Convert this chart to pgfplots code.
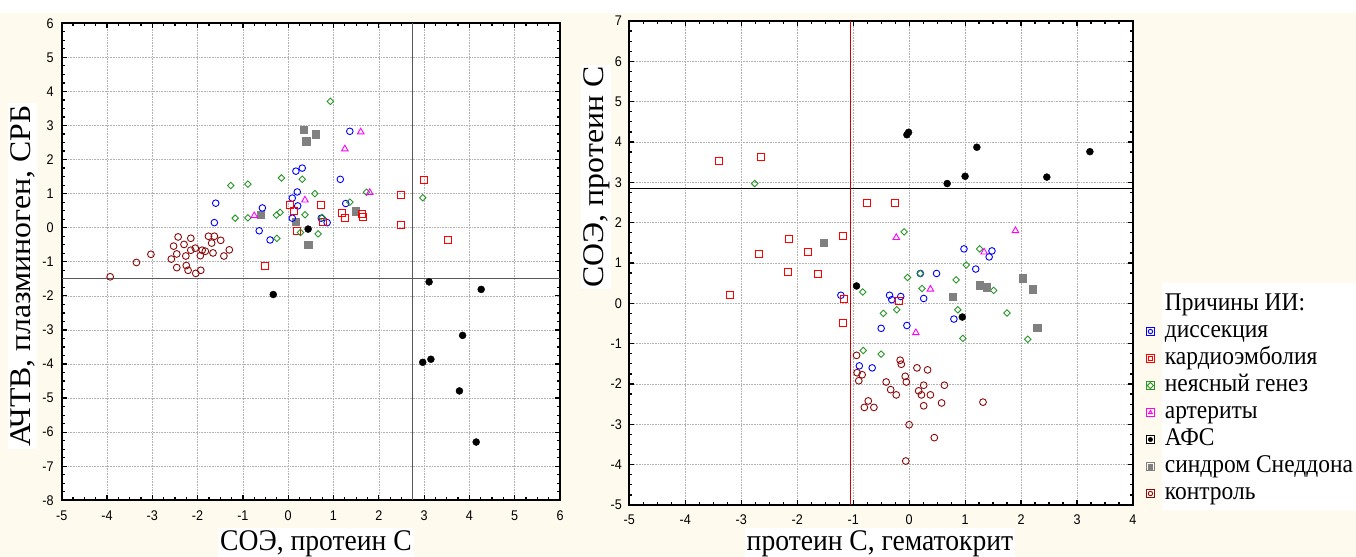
\documentclass[border=0pt]{standalone}
\usepackage{fontspec}
\usepackage{pgfplots}
\usepackage{pgfplotstable}
\pgfplotsset{compat=1.18}
\setmainfont{Liberation Serif}
\newfontfamily\lblfont[FakeStretch=0.92]{Liberation Serif}
\newfontfamily\rotfont[FakeStretch=1.06]{Liberation Serif}
\newfontfamily\tickfont[FakeStretch=0.9]{Liberation Sans}

\definecolor{cblue}{RGB}{0,0,255}
\definecolor{cred}{RGB}{255,0,0}
\definecolor{cgreen}{RGB}{40,150,40}
\definecolor{cmag}{RGB}{255,0,255}
\definecolor{cgray}{RGB}{128,128,128}
\definecolor{cbrown}{RGB}{140,10,10}
\definecolor{cream}{RGB}{255,250,238}

% ---------- left panel data ----------
\pgfplotstableread{
x y
1.36 2.83
0.31 1.75
0.17 1.66
1.15 1.42
0.20 1.05
0.09 0.87
0.21 0.64
1.27 0.71
-1.60 0.72
-0.57 0.58
-1.63 0.15
-0.64 -0.09
-0.40 -0.36
0.09 0.28
0.73 0.28
0.86 0.15
}\LdisTab
\pgfplotstableread{
x y
2.99 1.41
2.48 0.95
2.48 0.07
3.52 -0.36
0.73 0.67
0.04 0.68
0.12 0.48
1.18 0.44
1.25 0.29
1.63 0.40
1.66 0.33
0.76 0.17
0.20 -0.09
-0.51 -1.12
}\LcarTab
\pgfplotstableread{
x y
0.93 3.71
-0.15 1.46
0.31 1.42
0.59 1.00
1.73 1.04
1.36 0.75
-1.27 1.24
-0.89 1.28
-1.17 0.28
-0.89 0.29
-0.26 0.37
-0.18 0.45
0.37 0.38
0.75 0.30
0.27 -0.14
0.66 -0.18
-0.25 -0.31
2.97 0.88
}\LuncTab
\pgfplotstableread{
x y
1.60 2.81
1.25 2.31
0.37 0.81
1.80 1.03
-0.75 0.35
}\LartTab
\pgfplotstableread{
x y
0.44 -0.04
-0.33 -1.96
3.11 -1.59
4.26 -1.81
3.85 -3.16
2.97 -3.95
3.15 -3.86
3.78 -4.79
4.15 -6.29
}\LapsTab
\pgfplotstableread{
x y
0.34 2.88
0.61 2.74
0.40 2.54
-0.61 0.39
0.16 0.17
1.49 0.48
0.44 -0.49
}\LsndTab
\pgfplotstableread{
x y
-3.93 -1.44
-3.35 -1.02
-3.03 -0.78
-2.43 -0.27
-2.15 -0.31
-1.76 -0.25
-1.63 -0.25
-1.49 -0.37
-1.69 -0.45
-2.53 -0.54
-2.30 -0.49
-2.05 -0.60
-1.90 -0.66
-1.83 -0.69
-2.15 -0.66
-2.46 -0.77
-2.26 -0.83
-1.94 -0.82
-1.66 -0.74
-1.30 -0.65
-1.42 -0.83
-2.58 -0.92
-2.46 -1.17
-2.25 -1.11
-2.21 -1.25
-2.04 -1.34
-1.93 -1.25
}\LctlTab

% ---------- right panel data ----------
\pgfplotstableread{
x y
0.98 1.35
1.48 1.30
1.43 1.15
1.19 0.85
0.20 0.74
0.49 0.74
-1.22 0.20
-0.35 0.20
-0.31 0.09
-0.15 0.17
0.26 0.12
0.80 -0.39
-0.50 -0.62
-0.04 -0.55
-0.89 -1.55
-0.66 -1.60
}\RdisTab
\pgfplotstableread{
x y
-3.40 3.52
-2.64 3.63
-0.75 2.50
-0.25 2.49
-1.19 1.66
-2.15 1.59
-1.80 1.27
-2.69 1.22
-2.17 0.77
-1.63 0.73
-3.21 0.20
-1.16 0.12
-1.19 -0.48
-0.18 0.06
}\RcarTab
\pgfplotstableread{
x y
-2.76 2.97
-0.09 1.77
1.26 1.35
1.02 0.95
0.20 0.74
-0.03 0.64
0.84 0.58
1.51 0.32
0.23 0.37
-0.83 0.28
-0.22 -0.16
-0.46 -0.25
0.87 -0.16
1.75 -0.24
0.96 -0.87
2.12 -0.89
-0.82 -1.17
-0.50 -1.26
}\RuncTab
\pgfplotstableread{
x y
-0.23 1.63
1.90 1.80
1.34 1.27
0.38 0.35
0.12 -0.73
}\RartTab
\pgfplotstableread{
x y
-0.04 4.18
-0.01 4.24
1.21 3.87
3.23 3.76
0.68 2.97
1.00 3.15
2.46 3.13
-0.94 0.43
0.95 -0.34
}\RapsTab
\pgfplotstableread{
x y
-1.53 1.51
1.26 0.45
1.39 0.40
2.03 0.62
2.21 0.35
0.78 0.16
2.29 -0.60
}\RsndTab
\pgfplotstableread{
x y
-0.94 -1.29
-0.16 -1.41
-0.14 -1.51
0.14 -1.60
0.33 -1.65
-0.93 -1.72
-0.84 -1.77
-0.90 -1.92
-0.07 -1.81
-0.05 -1.95
-0.41 -1.95
-0.33 -2.14
-0.23 -2.27
0.26 -2.03
0.17 -2.17
0.22 -2.27
0.38 -2.27
0.63 -2.03
0.58 -2.47
1.32 -2.45
0.26 -2.54
-0.73 -2.42
-0.80 -2.58
-0.63 -2.58
0.00 -3.01
0.45 -3.33
-0.06 -3.91
}\RctlTab

\pgfplotsset{
  limg/.style={legend image code/.code={\path (-4bp,-4bp) rectangle (4bp,4bp);
      \draw[##1,mark size=2.2bp] plot coordinates {(0bp,0bp)};}},
  sdis/.style={only marks, mark=o, mark size=3.3bp, color=cblue, line width=0.9bp, limg},
  scar/.style={only marks, mark=square, mark size=3.5bp, color=cred, line width=0.9bp, limg},
  sunc/.style={only marks, mark=square, mark size=2.3bp, mark options={rotate=45}, color=cgreen, line width=0.9bp, limg},
  sart/.style={only marks, mark=triangle, mark size=3.8bp, color=cmag, line width=0.9bp, limg},
  saps/.style={only marks, mark=*, mark size=3.5bp, color=black, limg},
  ssnd/.style={only marks, mark=square*, mark size=3.7bp, color=cgray, limg},
  sctl/.style={only marks, mark=o, mark size=3.4bp, color=cbrown, line width=0.9bp, limg},
  panel/.style={
    scale only axis,
    anchor=south west,
    grid=major,
    major grid style={line width=0.6bp, densely dotted, black!30},
    axis line style={line width=2bp, black},
    tick style={line width=1.2bp, black},
    major tick length=5bp, minor tick length=3bp,
    minor x tick num=3, minor y tick num=3,
    tick align=inside,
    xtick pos=both, ytick pos=both,
    xticklabel pos=lower, yticklabel pos=left,
    tick label style={font=\tickfont\fontsize{14bp}{16bp}\selectfont},
    /pgf/number format/assume math mode=true,
    axis background/.style={fill=white},
  },
}

\begin{document}
\begin{tikzpicture}
\path[use as bounding box, fill=cream] (0,0) rectangle (1356bp,557bp);
\fill[white] (0,544bp) rectangle (1356bp,557bp);
\fill[white] (1162bp,47bp) rectangle (1356bp,274bp);

% ================= LEFT PANEL =================
\begin{axis}[panel,
  at={(61.7bp,56.7bp)}, width=498.3bp, height=477bp,
  xmin=-5, xmax=6, ymin=-8, ymax=6,
  xtick={-5,-4,...,6}, ytick={-8,-7,...,6},
  xticklabel shift=7bp, yticklabel shift=4.5bp,
]
\addplot[forget plot, line width=1.3bp, black!65] coordinates {(2.74,-8) (2.74,6)};
\addplot[forget plot, line width=1.3bp, black!65] coordinates {(-5,-1.5) (6,-1.5)};
\addplot[sctl] table {\LctlTab};
\addplot[ssnd] table {\LsndTab};
\addplot[sdis] table {\LdisTab};
\addplot[scar] table {\LcarTab};
\addplot[sunc] table {\LuncTab};
\addplot[sart] table {\LartTab};
\addplot[saps] table {\LapsTab};
\end{axis}

% ================= RIGHT PANEL =================
\begin{axis}[panel,
  at={(629.3bp,52bp)}, width=503.7bp, height=484bp,
  xmin=-5, xmax=4, ymin=-5, ymax=7,
  xtick={-5,-4,...,4}, ytick={-5,-4,...,7},
  xticklabel shift=6bp, yticklabel shift=4bp,
  legend cell align=left,
  legend style={at={(1.0258,0.4421)}, anchor=north west, draw=none, fill=none,
    inner sep=0pt, outer sep=0pt, row sep=0pt,
    nodes={inner sep=0pt, text height=19.5bp, text depth=7.5bp},
    font=\lblfont\fontsize{25.5bp}{26bp}\selectfont,
    /tikz/every odd column/.append style={column sep=10bp}},
]
\addlegendimage{empty legend}
\addlegendentry{Причины ИИ:}
\addplot[forget plot, line width=1bp, black] coordinates {(-5,2.85) (4,2.85)};
\addplot[forget plot, line width=1bp, cred!80!black] coordinates {(-1.04,-5) (-1.04,7)};
\addplot[sdis] table {\RdisTab}; \addlegendentry{диссекция}
\addplot[scar] table {\RcarTab}; \addlegendentry{кардиоэмболия}
\addplot[sunc] table {\RuncTab}; \addlegendentry{неясный генез}
\addplot[sart] table {\RartTab}; \addlegendentry{артериты}
\addplot[saps] table {\RapsTab}; \addlegendentry{АФС}
\addplot[ssnd] table {\RsndTab}; \addlegendentry{синдром Снеддона}
\addplot[sctl] table {\RctlTab}; \addlegendentry{контроль}
\end{axis}

% ================= axis titles =================
\node[font=\lblfont\fontsize{30bp}{30bp}\selectfont, anchor=base, fill=white, inner sep=2bp] at (316bp,7bp) {СОЭ, протеин С};
\node[font=\lblfont\fontsize{30bp}{30bp}\selectfont, anchor=base, fill=white, inner sep=2bp] at (880bp,7bp) {протеин С, гематокрит};
\node[font=\rotfont\fontsize{30bp}{30bp}\selectfont, anchor=base, rotate=90, fill=white, inner sep=2bp] at (30bp,281bp) {АЧТВ, плазминоген, СРБ};
\node[font=\rotfont\fontsize{30bp}{30bp}\selectfont, anchor=base, rotate=90, fill=white, inner sep=2bp] at (603bp,380bp) {СОЭ, протеин С};
\end{tikzpicture}
\end{document}
